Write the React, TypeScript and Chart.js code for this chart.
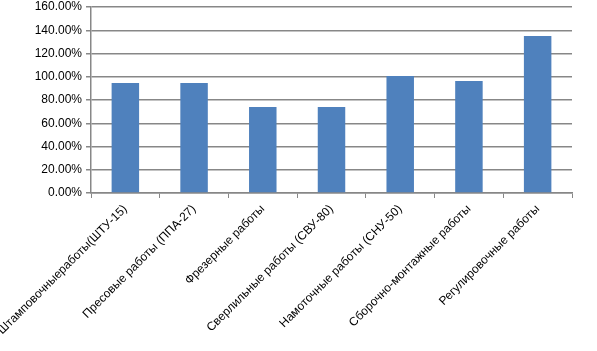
import React, { useEffect, useRef } from "react";
import { Chart, registerables } from "chart.js";

Chart.register(...registerables);

const categories = [
  "Штамповочныеработы(ШТУ-15)",
  "Пресовые работы (ППА-27)",
  "Фрезерные работы",
  "Сверлильные работы (СВУ-80)",
  "Намоточные работы (СНУ-50)",
  "Сборочно-монтажные работы",
  "Регулировочные работы",
];
const values = [94.6, 94.6, 74.0, 74.0, 100.6, 96.3, 135.0];
const yMin = 0;
const yMax = 160;
const yStep = 20;

const GRID = "#878787";
const FONT = "'Liberation Sans', Arial, sans-serif";

export default function App() {
  const ref = useRef<HTMLCanvasElement | null>(null);
  useEffect(() => {
    if (!ref.current) return;
    const chart = new Chart(ref.current, {
      type: "bar",
      data: {
        labels: categories,
        datasets: [
          {
            data: values,
            backgroundColor: "#4F81BD",
            barPercentage: 0.4,
            categoryPercentage: 1,
          },
        ],
      },
      options: {
        responsive: false,
        animation: false,
        devicePixelRatio: 1,
        layout: { padding: { top: 0, right: 25, left: 0, bottom: 0 } },
        plugins: { legend: { display: false }, tooltip: { enabled: false } },
        scales: {
          x: {
            offset: true,
            grid: {
              offset: true,
              drawOnChartArea: false,
              drawTicks: true,
              tickLength: 5,
              color: GRID,
              lineWidth: 1,
            },
            border: { display: true, color: GRID, width: 1.5 },
            ticks: {
              maxRotation: 45,
              minRotation: 45,
              autoSkip: false,
              color: "#000",
              padding: 4,
              font: { family: FONT, size: 12 },
            },
            afterFit: (s: any) => {
              s.height = 158;
              s.paddingLeft = 0;
              s.paddingRight = 0;
            },
          },
          y: {
            min: yMin,
            max: yMax,
            grid: {
              color: GRID,
              lineWidth: 1.5,
              tickLength: 5,
            },
            border: { display: true, color: GRID, width: 1.5 },
            ticks: {
              stepSize: yStep,
              color: "#000",
              padding: 4,
              font: { family: FONT, size: 12 },
              callback: (v: any) => Number(v).toFixed(2) + "%",
            },
            afterFit: (s: any) => {
              s.width = 91;
              s.paddingTop = 7;
              s.paddingBottom = 0;
            },
          },
        },
      },
    });
    return () => chart.destroy();
  }, []);
  return (
    <div style={{ position: "fixed", left: 0, top: 0, width: 597, height: 351, background: "#fff" }}>
      <canvas ref={ref} width={597} height={351} style={{ width: 597, height: 351 }} />
    </div>
  );
}
